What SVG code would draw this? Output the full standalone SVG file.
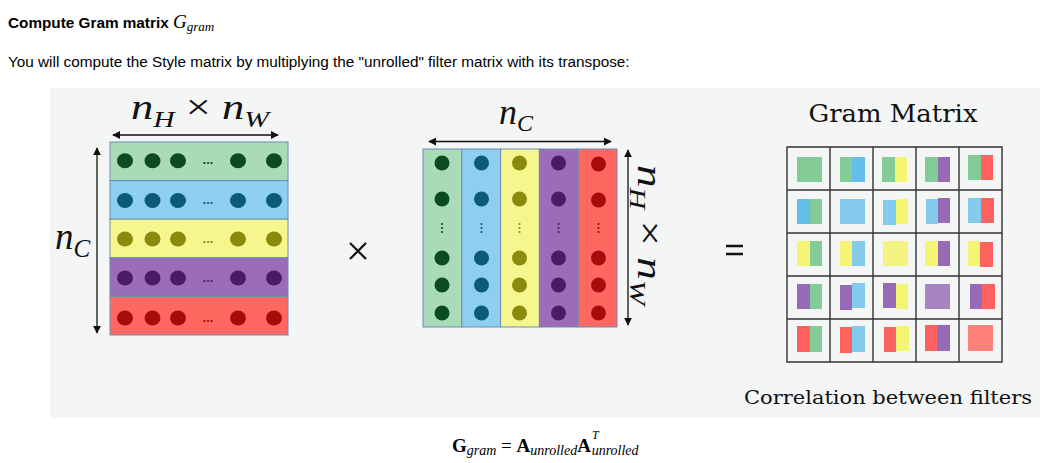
<svg xmlns="http://www.w3.org/2000/svg" width="1053" height="463" viewBox="0 0 1053 463">
<style>
.hdr{font-family:"Liberation Sans",Arial,sans-serif;font-size:15.3px;fill:#000}
.math{font-family:"Liberation Serif","Times New Roman",serif;font-style:italic;fill:#111}
.up{font-style:normal}
.ttl{font-family:"DejaVu Serif","Liberation Serif",serif;fill:#111}
.arr{stroke:#111;stroke-width:1.3;fill:none;marker-start:url(#ah);marker-end:url(#ah)}
.cellb{stroke:#6d8db3;stroke-width:1}
.g{fill:#a9dbb6}.b{fill:#8ecff0}.y{fill:#f6f68e}.p{fill:#9b6cb8}.r{fill:#ff6761}
.dg{fill:#0c4a1f}.db{fill:#0b5a79}.dy{fill:#8b8a0c}.dp{fill:#4b1b69}.dr{fill:#a80b0b}
.grid{stroke:#333;stroke-width:1.4;fill:none}
.ell{font-family:"Liberation Sans",sans-serif;font-size:13px;font-weight:bold}
</style>
<defs>
<marker id="ah" viewBox="0 0 10 10" refX="9" refY="5" markerWidth="8" markerHeight="8" markerUnits="userSpaceOnUse" orient="auto-start-reverse">
<path d="M0,0 L10,5 L0,10 z" fill="#111"/>
</marker>
</defs>
<rect width="1053" height="463" fill="#fff"/>
<g id="header">
<text class="hdr" x="8" y="28" font-weight="bold">Compute Gram matrix <tspan font-family="Liberation Serif,serif" font-style="italic" font-weight="normal" font-size="19">G</tspan><tspan font-family="Liberation Serif,serif" font-style="italic" font-weight="normal" font-size="13" dy="3">gram</tspan></text>
<text class="hdr" x="8" y="67">You will compute the Style matrix by multiplying the "unrolled" filter matrix with its transpose:</text>
</g>
<rect id="panel" x="50" y="88" width="990" height="330" fill="#f4f5f5"/>
<g id="matrixA">
<rect class="cellb g" x="110" y="142" width="178" height="38.6"/>
<rect class="cellb b" x="110" y="180.6" width="178" height="38.6"/>
<rect class="cellb y" x="110" y="219.2" width="178" height="38.6"/>
<rect class="cellb p" x="110" y="257.8" width="178" height="38.6"/>
<rect class="cellb r" x="110" y="296.4" width="178" height="38.6"/>
<g class="dg"><ellipse cx="125" cy="160.7" rx="8" ry="7.5"/><ellipse cx="152.5" cy="160.7" rx="8" ry="7.5"/><ellipse cx="178" cy="160.7" rx="8" ry="7.5"/><ellipse cx="238" cy="160.7" rx="8" ry="7.5"/><ellipse cx="274" cy="160.7" rx="8" ry="7.5"/><text class="ell" x="208" y="164" text-anchor="middle">...</text></g>
<g class="db"><ellipse cx="125" cy="200.5" rx="8" ry="7.5"/><ellipse cx="152.5" cy="200.5" rx="8" ry="7.5"/><ellipse cx="178" cy="200.5" rx="8" ry="7.5"/><ellipse cx="238" cy="200.5" rx="8" ry="7.5"/><ellipse cx="274" cy="200.5" rx="8" ry="7.5"/><text class="ell" x="208" y="204" text-anchor="middle">...</text></g>
<g class="dy"><ellipse cx="125" cy="239" rx="8" ry="7.5"/><ellipse cx="152.5" cy="239" rx="8" ry="7.5"/><ellipse cx="178" cy="239" rx="8" ry="7.5"/><ellipse cx="238" cy="239" rx="8" ry="7.5"/><ellipse cx="274" cy="239" rx="8" ry="7.5"/><text class="ell" x="208" y="242.5" text-anchor="middle">...</text></g>
<g class="dp"><ellipse cx="125" cy="278" rx="8" ry="7.5"/><ellipse cx="152.5" cy="278" rx="8" ry="7.5"/><ellipse cx="178" cy="278" rx="8" ry="7.5"/><ellipse cx="238" cy="278" rx="8" ry="7.5"/><ellipse cx="274" cy="278" rx="8" ry="7.5"/><text class="ell" x="208" y="282" text-anchor="middle">...</text></g>
<g class="dr"><ellipse cx="125" cy="318" rx="8" ry="7.5"/><ellipse cx="152.5" cy="318" rx="8" ry="7.5"/><ellipse cx="178" cy="318" rx="8" ry="7.5"/><ellipse cx="238" cy="318" rx="8" ry="7.5"/><ellipse cx="274" cy="318" rx="8" ry="7.5"/><text class="ell" x="208" y="322" text-anchor="middle">...</text></g>
<text class="math" x="131" y="119" font-size="36" textLength="138" lengthAdjust="spacingAndGlyphs">n<tspan font-size="24" dy="8">H</tspan><tspan class="up" dy="-8"> × </tspan>n<tspan font-size="24" dy="8">W</tspan></text>
<text class="math" x="55" y="249" font-size="37">n<tspan font-size="25" dy="8">C</tspan></text>
</g>
<g id="matrixAT">
<rect class="cellb g" x="423" y="149" width="38.8" height="178"/>
<rect class="cellb b" x="461.8" y="149" width="38.8" height="178"/>
<rect class="cellb y" x="500.6" y="149" width="38.8" height="178"/>
<rect class="cellb p" x="539.4" y="149" width="38.8" height="178"/>
<rect class="cellb r" x="578.2" y="149" width="38.8" height="178"/>
<g class="dg"><circle cx="442" cy="163" r="7.5"/><circle cx="442" cy="199" r="7.5"/><circle cx="442" cy="258" r="7.5"/><circle cx="442" cy="285" r="7.5"/><circle cx="442" cy="313" r="7.5"/><circle cx="442" cy="224" r="1.1"/><circle cx="442" cy="228" r="1.1"/><circle cx="442" cy="232" r="1.1"/></g>
<g class="db"><circle cx="481.5" cy="163" r="7.5"/><circle cx="481.5" cy="199" r="7.5"/><circle cx="481.5" cy="258" r="7.5"/><circle cx="481.5" cy="285" r="7.5"/><circle cx="481.5" cy="313" r="7.5"/><circle cx="481.5" cy="224" r="1.1"/><circle cx="481.5" cy="228" r="1.1"/><circle cx="481.5" cy="232" r="1.1"/></g>
<g class="dy"><circle cx="519.5" cy="163" r="7.5"/><circle cx="519.5" cy="199" r="7.5"/><circle cx="519.5" cy="258" r="7.5"/><circle cx="519.5" cy="285" r="7.5"/><circle cx="519.5" cy="313" r="7.5"/><circle cx="519.5" cy="224" r="1.1"/><circle cx="519.5" cy="228" r="1.1"/><circle cx="519.5" cy="232" r="1.1"/></g>
<g class="dp"><circle cx="558.5" cy="163" r="7.5"/><circle cx="558.5" cy="199" r="7.5"/><circle cx="558.5" cy="258" r="7.5"/><circle cx="558.5" cy="285" r="7.5"/><circle cx="558.5" cy="313" r="7.5"/><circle cx="558.5" cy="224" r="1.1"/><circle cx="558.5" cy="228" r="1.1"/><circle cx="558.5" cy="232" r="1.1"/></g>
<g class="dr"><circle cx="598.5" cy="164" r="7.5"/><circle cx="598.5" cy="200" r="7.5"/><circle cx="598.5" cy="258" r="7.5"/><circle cx="598.5" cy="285" r="7.5"/><circle cx="598.5" cy="313" r="7.5"/><circle cx="598.5" cy="224" r="1.1"/><circle cx="598.5" cy="228" r="1.1"/><circle cx="598.5" cy="232" r="1.1"/></g>
<text class="math" x="499" y="124" font-size="36">n<tspan font-size="24" dy="7">C</tspan></text>
<text class="math" transform="translate(638,165) rotate(90)" x="0" y="0" font-size="36" textLength="140" lengthAdjust="spacingAndGlyphs">n<tspan font-size="24" dy="8">H</tspan><tspan class="up" dy="-8"> × </tspan>n<tspan font-size="24" dy="8">W</tspan></text>
</g>
<g id="times">
<path d="M350,243 L366,259 M366,243 L350,259" stroke="#111" stroke-width="2.2"/>
</g>
<g id="equals">
<path d="M726,246 H743 M726,254 H743" stroke="#111" stroke-width="2.6"/>
</g>
<g id="gram">
<text class="ttl" x="893" y="121.5" font-size="25" text-anchor="middle" textLength="169" lengthAdjust="spacingAndGlyphs">Gram Matrix</text>
<g opacity="0.95">
<rect x="797" y="157" width="25" height="25" fill="#7ec993"/>
<rect x="840" y="157" width="12" height="25" fill="#7ec993"/><rect x="852" y="157" width="13" height="25" fill="#5dbbea"/>
<rect x="882" y="157" width="13" height="25" fill="#7ec993"/><rect x="895" y="157" width="12" height="25" fill="#f5f56b"/>
<rect x="925" y="157" width="13" height="25" fill="#7ec993"/><rect x="938" y="157" width="12" height="25" fill="#9363b4"/>
<rect x="968" y="155" width="13" height="25" fill="#7ec993"/><rect x="981" y="155" width="12" height="25" fill="#ff5b57"/>
<rect x="797" y="199" width="13" height="25" fill="#5dbbea"/><rect x="810" y="199" width="12" height="25" fill="#7ec993"/>
<rect x="840" y="199" width="25" height="25" fill="#7dc8ec"/>
<rect x="883" y="200" width="13" height="25" fill="#7dc8ec"/><rect x="896" y="199" width="12" height="25" fill="#f5f56b"/>
<rect x="926" y="199" width="12" height="25" fill="#7dc8ec"/><rect x="938" y="198" width="12" height="25" fill="#9363b4"/>
<rect x="968" y="198" width="13" height="25" fill="#7dc8ec"/><rect x="981" y="198" width="13" height="25" fill="#ff5b57"/>
<rect x="797" y="241" width="13" height="25" fill="#f5f56b"/><rect x="810" y="241" width="12" height="25" fill="#7ec993"/>
<rect x="840" y="241" width="12" height="25" fill="#f5f56b"/><rect x="852" y="241" width="13" height="25" fill="#7dc8ec"/>
<rect x="883" y="241" width="25" height="25" fill="#f5f57a"/>
<rect x="925" y="241" width="13" height="25" fill="#f5f56b"/><rect x="938" y="241" width="12" height="25" fill="#9363b4"/>
<rect x="968" y="241" width="12" height="25" fill="#f5f56b"/><rect x="980" y="242" width="13" height="25" fill="#ff5b57"/>
<rect x="797" y="284" width="13" height="25" fill="#9363b4"/><rect x="810" y="284" width="12" height="25" fill="#7ec993"/>
<rect x="840" y="285" width="12" height="25" fill="#9363b4"/><rect x="852" y="283" width="13" height="25" fill="#7dc8ec"/>
<rect x="883" y="283" width="13" height="25" fill="#9363b4"/><rect x="896" y="284" width="12" height="25" fill="#f5f56b"/>
<rect x="925" y="284" width="25" height="25" fill="#a37ec0"/>
<rect x="970" y="284" width="12" height="25" fill="#9363b4"/><rect x="982" y="284" width="13" height="25" fill="#ff5b57"/>
<rect x="797" y="326" width="13" height="26" fill="#ff5b57"/><rect x="810" y="326" width="12" height="26" fill="#7ec993"/>
<rect x="840" y="327" width="12" height="26" fill="#ff5b57"/><rect x="852" y="326" width="13" height="26" fill="#7dc8ec"/>
<rect x="884" y="327" width="12" height="25" fill="#ff5b57"/><rect x="896" y="326" width="13" height="25" fill="#f5f56b"/>
<rect x="925" y="325" width="12" height="26" fill="#ff5b57"/><rect x="937" y="325" width="13" height="26" fill="#9363b4"/>
<rect x="968" y="325" width="13" height="26" fill="#ff7a72"/><rect x="981" y="325" width="12" height="26" fill="#ff7a72"/>
</g>
<path class="grid" d="M787,147 H1002 V362 H787 Z M830,147 V362 M873,147 V362 M916,147 V362 M959,147 V362 M787,190 H1002 M787,233 H1002 M787,276 H1002 M787,319 H1002"/>
<text class="ttl" x="888" y="404" font-size="19" text-anchor="middle" textLength="288" lengthAdjust="spacingAndGlyphs">Correlation between filters</text>
</g>
<g id="connectors">
<line class="arr" x1="113" y1="135" x2="278" y2="135"/>
<line class="arr" x1="97" y1="148" x2="97" y2="333"/>
<line class="arr" x1="429" y1="141.5" x2="611" y2="141.5"/>
<line class="arr" x1="628" y1="150" x2="628" y2="325"/>
</g>
<g id="formula">
<text font-family="Liberation Serif,'Times New Roman',serif" font-size="19" fill="#000" x="452" y="452"><tspan font-weight="bold">G</tspan><tspan font-style="italic" font-size="14" dy="3">gram</tspan><tspan dy="-3"> = </tspan><tspan font-weight="bold">A</tspan><tspan font-style="italic" font-size="14" dy="3">unrolled</tspan><tspan dy="-3" font-weight="bold">A</tspan><tspan font-style="italic" font-size="12" dx="1" dy="-13">T</tspan><tspan font-style="italic" font-size="14" dx="-7" dy="16">unrolled</tspan></text>
</g>
</svg>
